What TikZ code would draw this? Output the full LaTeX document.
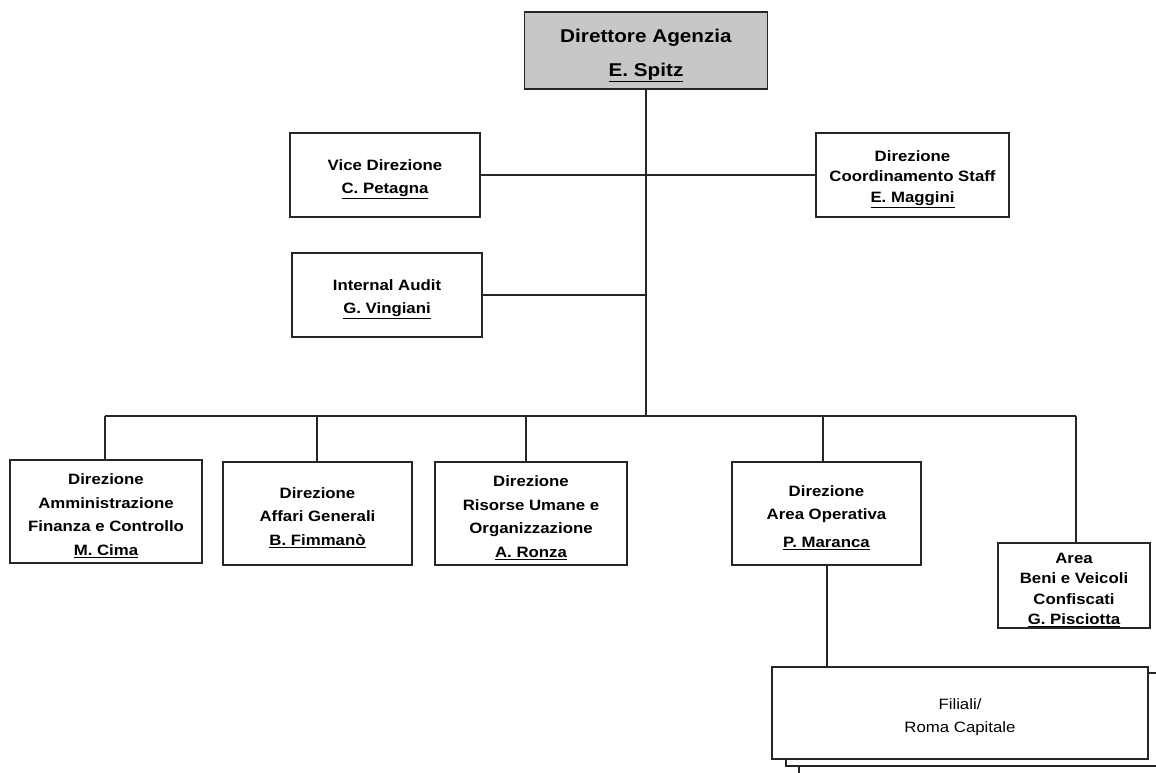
\documentclass[tikz,border=0pt]{standalone}
\usepackage{fontspec}
\setmainfont{Liberation Sans}[FakeStretch=1.12]
\newcommand{\myS}[1][19pt]{\rule{0pt}{#1}}
\begin{document}
\begin{tikzpicture}[x=1pt,y=-1pt,
  box/.style={draw=black!85, line width=1.4pt, fill=white, align=center, inner sep=0pt,
    font=\bfseries\fontsize{15}{23.5}\selectfont},
  tight/.style={font=\bfseries\fontsize{15}{20.5}\selectfont},
  conn/.style={draw=black!85, line width=1.4pt},
  back/.style={draw=black!85, line width=1.4pt, fill=white}]
\useasboundingbox (0,0) rectangle (1156,772);
\fill[white] (0,0) rectangle (1156,772);
\begin{scope}
\clip (0,0) rectangle (1156,772);

% nodes
\node[box, fill=black!22, minimum width=243pt, minimum height=77pt,
  font=\bfseries\fontsize{18.5}{34}\selectfont] (dir) at (646,50.5)
  {\myS[23.5pt]Direttore Agenzia\\\underline{E. Spitz}};
\node[box, minimum width=190pt, minimum height=84pt] (vice) at (385,175)
  {\myS Vice Direzione\\\underline{C. Petagna}};
\node[box, tight, minimum width=193pt, minimum height=84pt] (staff) at (912.5,175)
  {\myS Direzione\\Coordinamento Staff\\\underline{E. Maggini}};
\node[box, minimum width=190pt, minimum height=84pt] (audit) at (387,295)
  {\myS Internal Audit\\\underline{G. Vingiani}};
\node[box, minimum width=192pt, minimum height=103pt] (b1) at (106,511.5)
  {\myS Direzione\\Amministrazione\\Finanza e Controllo\\\underline{M. Cima}};
\node[box, minimum width=189pt, minimum height=103pt] (b2) at (317.5,513.5)
  {\myS Direzione\\Affari Generali\\\underline{B. Fimmanò}};
\node[box, minimum width=192pt, minimum height=103pt] (b3) at (531,513.5)
  {\myS Direzione\\Risorse Umane e\\Organizzazione\\\underline{A. Ronza}};
\node[box, minimum width=189pt, minimum height=103pt] (b4) at (826.5,513.5)
  {\myS Direzione\\Area Operativa\\[4pt]\underline{P. Maranca}};
\node[box, tight, minimum width=152pt, minimum height=85pt] (b5) at (1074,585.5)
  {\myS Area\\Beni e Veicoli\\Confiscati\\\underline{G. Pisciotta}};

% stacked Filiali boxes
\draw[back] (799,679) rectangle (1185,795);
\draw[back] (786,673) rectangle (1175,766);
\node[box, minimum width=376pt, minimum height=92pt,
  font=\mdseries\fontsize{15}{23}\selectfont] (fil) at (960,713)
  {\myS Filiali/\\Roma Capitale};

% junctions
\coordinate (bus) at (dir.south |- 0,416);
\coordinate (j1) at (105,416);
\coordinate (j2) at (317,416);
\coordinate (j3) at (526,416);
\coordinate (j4) at (823,416);
\coordinate (j5) at (1076,416);

% connectors
\draw[conn] (dir.south) -- (bus);
\draw[conn] (vice.east) -- (staff.west);
\draw[conn] (audit.east) -- (audit.east -| dir.south);
\draw[conn] (j1) -- (j5);
\draw[conn] (j1) -- (j1 |- b1.north);
\draw[conn] (j2) -- (j2 |- b2.north);
\draw[conn] (j3) -- (j3 |- b3.north);
\draw[conn] (j4) -- (j4 |- b4.north);
\draw[conn] (j5) -- (j5 |- b5.north);
\coordinate (k4) at (827,565);
\draw[conn] (k4) -- (k4 |- fil.north);
\end{scope}
\end{tikzpicture}
\end{document}
